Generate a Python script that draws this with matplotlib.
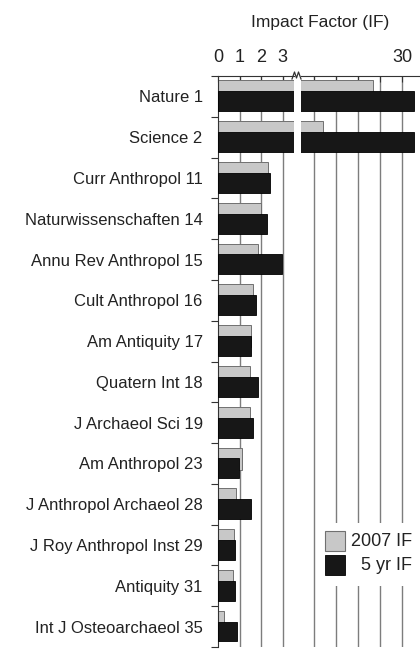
import matplotlib.pyplot as plt
import numpy as np
from matplotlib.patches import Rectangle
from matplotlib.lines import Line2D

plt.rcParams['font.family'] = ['Liberation Sans', 'DejaVu Sans']

JOURNALS = ["Nature 1", "Science 2", "Curr Anthropol 11", "Naturwissenschaften 14",
            "Annu Rev Anthropol 15", "Cult Anthropol 16", "Am Antiquity 17",
            "Quatern Int 18", "J Archaeol Sci 19", "Am Anthropol 23",
            "J Anthropol Archaeol 28", "J Roy Anthropol Inst 29", "Antiquity 31",
            "Int J Osteoarchaeol 35"]
IF_2007 = [23.4, 12.0, 2.32, 1.97, 1.87, 1.63, 1.54, 1.47, 1.47, 1.12, 0.84, 0.72, 0.69, 0.29]
IF_5YR = [32.7, 32.7, 2.43, 2.26, 2.97, 1.75, 1.55, 1.84, 1.63, 0.97, 1.55, 0.80, 0.77, 0.86]
LEFT_TICKS = [0, 1, 2, 3]
RIGHT_TICKS = [10, 15, 20, 25, 30]

GRAY = "#c8c8c8"
BLACK = "#171717"
TXT = "#222222"
GRID = "#7d7d7d"

W, H = 420, 649
fig = plt.figure(figsize=(W / 100, H / 100), dpi=100)

# two panels for the broken x axis (pixel positions from the reference)
top, bot = 1 - 76 / H, 1 - 647 / H
axL = fig.add_axes([218 / W, bot, (294 - 218) / W, top - bot])
axR = fig.add_axes([301 / W, bot, (W - 301) / W, top - bot])

y = np.arange(len(JOURNALS))
for ax in (axL, axR):
    ax.barh(y - 0.12, IF_2007, height=0.54, color=GRAY, edgecolor="#707070",
            linewidth=0.7, zorder=2)
    ax.barh(y + 0.12, IF_5YR, height=0.49, color=BLACK, edgecolor="#000000",
            linewidth=0.6, zorder=3)
    ax.set_ylim(len(JOURNALS) - 0.5, -0.5)
    ax.xaxis.tick_top()
    for s in ("bottom", "right"):
        ax.spines[s].set_visible(False)
    ax.spines["top"].set_color("#333333")
    ax.tick_params(axis="x", direction="in", length=4, color="#333333",
                   labelsize=13, labelcolor=TXT, pad=7)

axL.set_xlim(0, (294 - 218) / 21.6)
axL.set_xticks(LEFT_TICKS)
axL.set_xticklabels([str(t) for t in LEFT_TICKS])
for t in LEFT_TICKS[1:]:
    axL.axvline(t, color=GRID, lw=1, zorder=1)

axR.set_xlim(10 - 13 / 4.4, 30 + 18 / 4.4)
axR.set_xticks(RIGHT_TICKS)
axR.set_xticklabels(["" if t != 30 else "30" for t in RIGHT_TICKS])
for t in RIGHT_TICKS:
    axR.axvline(t, color=GRID, lw=1, zorder=1)
axR.spines["left"].set_visible(False)
axR.set_yticks([])

# y axis: tick marks between groups, labels at group centres
axL.spines["left"].set_color("#333333")
axL.set_yticks(np.arange(len(JOURNALS) + 1) - 0.5)
axL.set_yticklabels([])
axL.tick_params(axis="y", which="major", direction="out", length=5, color="#333333")
axL.set_yticks(y, minor=True)
axL.set_yticklabels(JOURNALS, minor=True)
axL.tick_params(axis="y", which="minor", length=0, pad=11, labelsize=12, labelcolor=TXT)

# break mark on the top axis
fig.add_artist(Line2D(np.array([292, 294.5, 296.5, 298.5, 301]) / W,
                      1 - np.array([79, 72, 78, 72, 79]) / H,
                      color="#333333", lw=0.9))

fig.text(320 / W, 1 - 22 / H, "Impact Factor (IF)", ha="center", va="center",
         fontsize=12.5, color=TXT)

# legend, drawn by hand so the labels are right-aligned
fig.add_artist(Rectangle((322 / W, 1 - 586 / H), 98 / W, 63 / H,
                         transform=fig.transFigure, facecolor="white",
                         edgecolor="none", zorder=5))
fig.add_artist(Rectangle((325 / W, 1 - 551 / H), 20 / W, 20 / H,
                         transform=fig.transFigure, facecolor=GRAY,
                         edgecolor="#707070", lw=0.8, zorder=6))
fig.add_artist(Rectangle((325 / W, 1 - 575 / H), 20 / W, 20 / H,
                         transform=fig.transFigure, facecolor=BLACK,
                         edgecolor="#000000", lw=0.6, zorder=6))
fig.text(412 / W, 1 - 541 / H, "2007 IF", ha="right", va="center",
         fontsize=13, color=TXT, zorder=7)
fig.text(412 / W, 1 - 565 / H, "5 yr IF", ha="right", va="center",
         fontsize=13, color=TXT, zorder=7)

fig.savefig("out.png", dpi=100)
